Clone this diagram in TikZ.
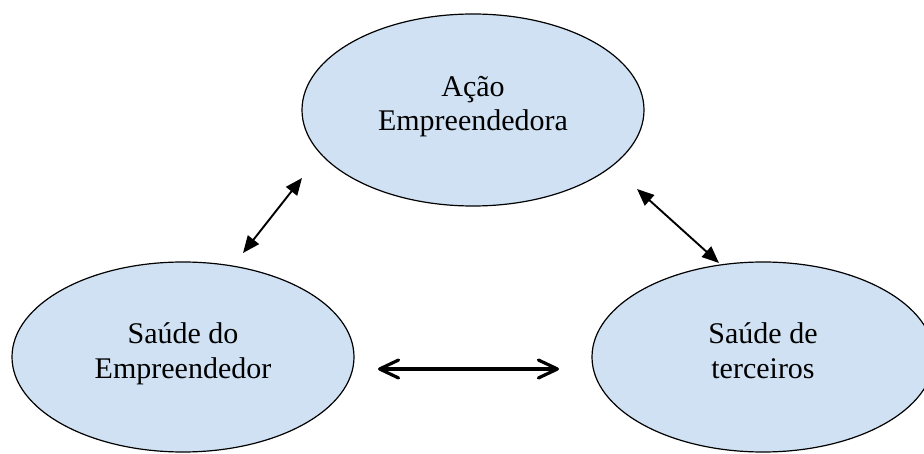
\documentclass[tikz,border=0pt]{standalone}
\usepackage{fontspec}
\setmainfont{Liberation Serif}
\usetikzlibrary{arrows.meta,shapes.geometric}
\definecolor{ellfill}{RGB}{207,225,242}
\begin{document}
\begin{tikzpicture}[x=1pt,y=-1pt,
  ell/.style={ellipse,draw=black,line width=1.2pt,fill=ellfill,minimum width=342pt,minimum height=190pt,inner sep=0pt},
  lbl/.style={anchor=base,inner sep=0pt,font=\fontsize{30}{34}\selectfont},
  thinarr/.style={line width=1.9pt,{Triangle[length=17pt,width=14pt]}-{Triangle[length=17pt,width=14pt]}},
  thickarr/.style={line width=3.2pt,line cap=round,{Straight Barb[length=19pt,width=18pt,round]}-{Straight Barb[length=19pt,width=18pt,round]}}]
\useasboundingbox (0,0) rectangle (924,454);
\fill[white] (0,0) rectangle (924,454);
\clip (0,0) rectangle (924,454);
\node[ell,minimum height=192pt] (acao) at (473,110) {};
\node[ell] (emp) at (183,357) {};
\node[ell] (terc) at (763,357) {};
\node[lbl] (acao1) at (473,97) {Ação};
\node[lbl] (acao2) at (473,131) {Empreendedora};
\node[lbl] (emp1) at (183,344) {Saúde do};
\node[lbl] (emp2) at (183,378) {Empreendedor};
\node[lbl] (terc1) at (763,344) {Saúde de};
\node[lbl] (terc2) at (763,378) {terceiros};
\coordinate (a1) at (243,253);
\coordinate (a2) at (302,178);
\coordinate (b1) at (637,189);
\coordinate (b2) at (719,263);
\coordinate (c1) at (378,369);
\coordinate (c2) at (559,369);
\draw[thinarr] (a1) -- (a2);
\draw[thinarr] (b1) -- (b2);
\draw[thickarr] (c1) -- (c2);
\end{tikzpicture}
\end{document}
